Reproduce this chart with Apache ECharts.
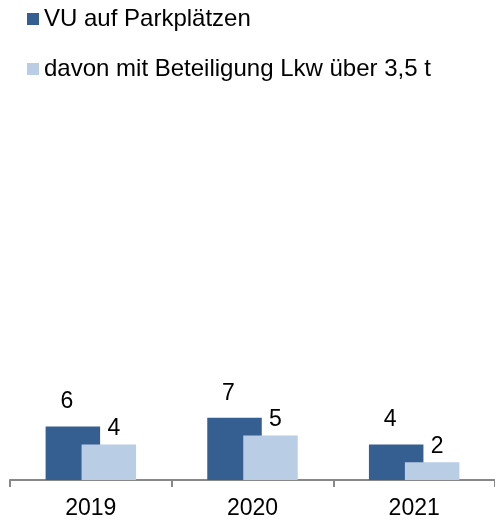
<!DOCTYPE html>
<html>
<head>
<meta charset="utf-8">
<script src="https://cdn.jsdelivr.net/npm/echarts@6/dist/echarts.min.js"></script>
<style>
  html, body { margin: 0; padding: 0; background: #fff; }
  #chart { width: 495px; height: 524px; }
</style>
</head>
<body>
<div id="chart"></div>
<script>
// Unfälle auf Parkplätzen, 2019–2021
const years = ['2019', '2020', '2021'];
const seriesNames = ['VU auf Parkplätzen', 'davon mit Beteiligung Lkw über 3,5 t'];
const vuParkplatz = [6, 7, 4];
const davonLkw = [4, 5, 2];

const FONT = '"Liberation Sans", Arial, sans-serif';
const chart = echarts.init(document.getElementById('chart'), null, { renderer: 'canvas' });

chart.setOption({
  animation: false,
  textStyle: { fontFamily: FONT },
  legend: {
    orient: 'vertical',
    left: 22,
    top: 2,
    itemWidth: 12,
    itemHeight: 12,
    itemGap: 26,
    icon: 'rect',
    textStyle: { fontFamily: FONT, fontSize: 24, color: '#000' },
    data: seriesNames
  },
  grid: { left: 10, width: 487.5, top: 124, bottom: 44 },
  xAxis: {
    type: 'category',
    data: years,
    axisLine: { lineStyle: { color: '#888888', width: 2 } },
    axisTick: { show: true, length: 7, lineStyle: { color: '#888888', width: 2 } },
    axisLabel: { fontFamily: FONT, fontSize: 23, color: '#000', margin: 17 }
  },
  yAxis: { type: 'value', min: 0, max: 40, show: false, splitLine: { show: false } },
  series: [
    {
      name: seriesNames[0],
      type: 'bar',
      data: vuParkplatz,
      barWidth: 54.5,
      barGap: '-34%',
      itemStyle: { color: '#365F91' },
      label: { show: true, position: 'top', distance: 13, offset: [-6, 0], fontFamily: FONT, fontSize: 23, color: '#000' }
    },
    {
      name: seriesNames[1],
      type: 'bar',
      data: davonLkw,
      barWidth: 54.5,
      itemStyle: { color: '#B9CDE5' },
      label: { show: true, position: 'top', distance: 4, offset: [5, 0], fontFamily: FONT, fontSize: 23, color: '#000' }
    }
  ]
});
</script>
</body>
</html>
